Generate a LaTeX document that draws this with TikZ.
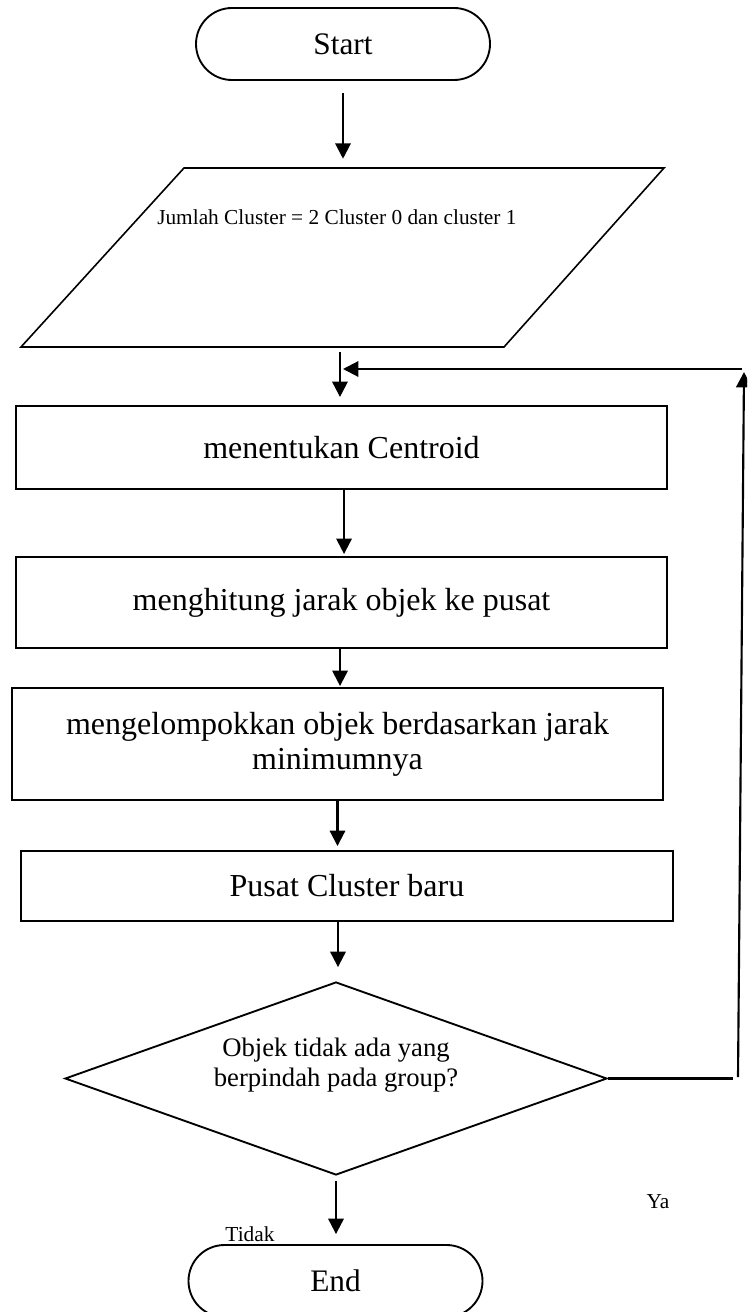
\documentclass[tikz,border=0pt]{standalone}
\usepackage{fontspec}
\setmainfont{Liberation Serif}
\usetikzlibrary{arrows.meta,shapes.geometric,calc}

\begin{document}
\begin{tikzpicture}[x=0.75pt,y=-0.75pt,
  box/.style={draw, line width=1.5pt, inner sep=0pt, align=center,
    font=\fontsize{24}{26.25}\selectfont},
  term/.style={draw, line width=1.4pt, rounded corners=27pt, inner sep=0pt,
    minimum width=220.5pt, minimum height=54pt, font=\fontsize{23.5}{26}\selectfont},
  flow/.style={line width=1.6pt, -{Triangle[length=11.5pt,width=11.5pt]}},
  plain/.style={line width=1.6pt},
  lbl/.style={font=\fontsize{16}{19}\selectfont, inner sep=0pt},
]
\clip (0,0) rectangle (747,1312);

% terminals
\node[term] (start) at (343,44) {Start};
\node[term] (end) at (335.5,1281) {End};

% input (parallelogram)
\node[inner sep=0pt, minimum width=482.25pt, minimum height=134.25pt] (input) at (342.5,257.5) {};
\draw[line width=1.2pt] (184,168) -- (664,168) -- (504,347) -- (21,347) -- cycle;
\node[lbl, anchor=west] (jumlah) at (157,217) {Jumlah Cluster = 2 Cluster 0 dan cluster 1};

% process steps
\node[box, minimum width=488.25pt, minimum height=62.25pt] (centroid) at (341.5,447.5) {menentukan Centroid};
\node[box, minimum width=488.25pt, minimum height=68.25pt] (jarak) at (341.5,602.5) {menghitung jarak objek ke pusat};
\node[box, minimum width=488.25pt, minimum height=84pt] (kelompok) at (337.5,744) {mengelompokkan objek berdasarkan jarak\\minimumnya};
\node[box, minimum width=489pt, minimum height=52.5pt] (baru) at (347,886) {Pusat Cluster baru};

% decision
\node[draw, diamond, line width=1.4pt, inner sep=0pt, minimum width=406.5pt, minimum height=144.75pt] (cek) at (336,1078.5) {};
\node[align=center, font=\fontsize{20}{22.5}\selectfont, inner sep=0pt] (cektext) at (336,1065) {Objek tidak ada yang\\berpindah pada group?};

% branch labels
\node[lbl] (ya) at (658,1202) {Ya};
\node[lbl] (tidak) at (250,1234) {Tidak};

% main flow
\draw[flow, shorten <=9pt, shorten >=6.75pt] (start.south) -- (start.south |- input.north);
\draw[flow, shorten <=3.75pt, shorten >=6pt] ([xshift=-1.9pt]input.south) -- ([xshift=-1.9pt]input.south |- centroid.north);
\draw[flow, shorten >=1.5pt] ([xshift=1.9pt]centroid.south) -- ([xshift=1.9pt]centroid.south |- jarak.north);
\draw[flow, shorten >=0.75pt] ([xshift=-1.1pt]jarak.south) -- ([xshift=-1.1pt]jarak.south |- kelompok.north);
\draw[flow, shorten >=3pt] (kelompok.south) -- (kelompok.south |- baru.north);
\draw[flow, shorten >=10.5pt] ([xshift=-6.75pt]baru.south) -- ([xshift=-6.75pt]baru.south |- cek.north);
\draw[flow, shorten <=3.75pt, shorten >=7.5pt] (cek.south) -- (cek.south |- end.north);

% loop back to the centroid step
\coordinate (l1) at (733,1078.5);
\coordinate (l2) at (738,1077);
\coordinate (l3) at (744,372);
\coordinate (l4) at (742,369);
\coordinate (back) at (343,369);
\draw[plain] (cek.east) -- (l1);
\draw[flow] (l2) -- (l3);
\draw[flow] (l4) -- (back);
\end{tikzpicture}
\end{document}
